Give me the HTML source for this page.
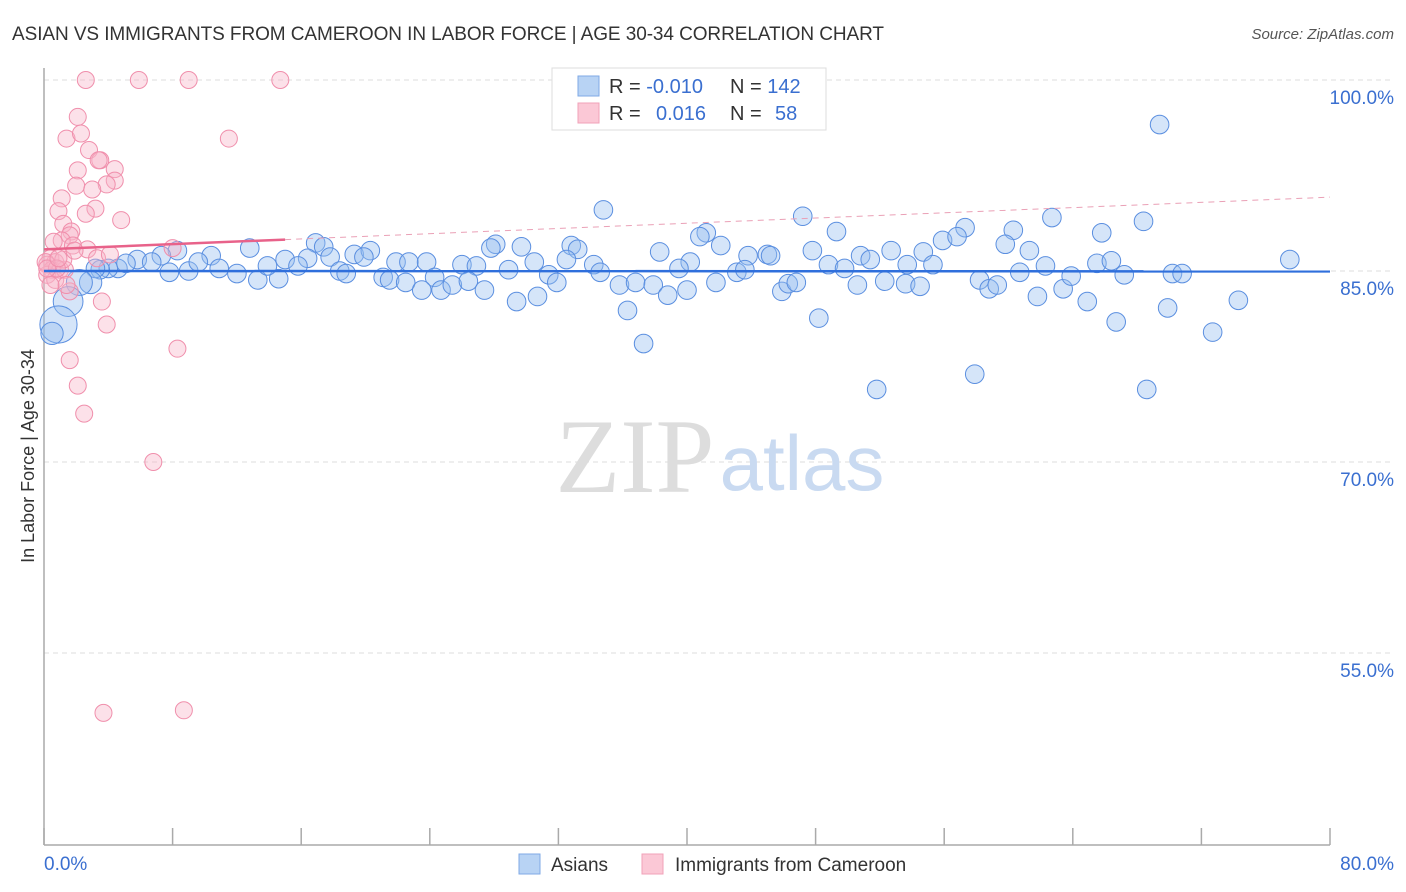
<!DOCTYPE html>
<html><head><meta charset="utf-8"><style>
body{margin:0;background:#fff;font-family:"Liberation Sans",sans-serif;}
svg{display:block}
</style></head><body>
<svg width="1406" height="892" xmlns="http://www.w3.org/2000/svg">
<text x="12" y="40" font-size="19" fill="#333" textLength="872">ASIAN VS IMMIGRANTS FROM CAMEROON IN LABOR FORCE | AGE 30-34 CORRELATION CHART</text>
<text x="1394" y="39" font-size="15" fill="#555" font-style="italic" text-anchor="end">Source: ZipAtlas.com</text>
<g id="grid"></g>
<g>
<text x="635" y="492" font-size="106" fill="#ddd" font-family="Liberation Serif,serif" text-anchor="middle">ZIP</text>
<text x="802" y="490" font-size="78" fill="#c9daf1" text-anchor="middle">atlas</text>
</g>
<line x1="44" y1="68" x2="44" y2="845" stroke="#aaa" stroke-width="1.5"/>
<line x1="44" y1="845" x2="1330" y2="845" stroke="#aaa" stroke-width="1.5"/>
<g id="xticks"></g>
<g id="pts"></g>
<g id="trend"></g>
<text x="0" y="0" font-size="18" fill="#333" text-anchor="middle" transform="translate(34,456) rotate(-90)">In Labor Force | Age 30-34</text>
<text x="44" y="870" font-size="19" fill="#3a6fd0">0.0%</text>
<text x="1394" y="870" font-size="19" fill="#3a6fd0" text-anchor="end">80.0%</text>
<g>
<rect x="552" y="68" width="274" height="62" fill="#fff" stroke="#ddd"/>
<rect x="578" y="76" width="21" height="20" fill="#b8d3f4" stroke="#7fa9e6"/>
<rect x="578" y="103" width="21" height="20" fill="#fbc8d6" stroke="#f0a2b8"/>
<text x="609" y="93" font-size="20" fill="#333">R = <tspan fill="#3a6fd0">-0.010</tspan></text>
<text x="730" y="93" font-size="20" fill="#333">N = <tspan fill="#3a6fd0">142</tspan></text>
<text x="609" y="120" font-size="20" fill="#333">R = <tspan fill="#3a6fd0" x="656">0.016</tspan></text>
<text x="730" y="120" font-size="20" fill="#333">N = <tspan fill="#3a6fd0" x="775">58</tspan></text>
</g>
<g>
<rect x="519" y="854" width="21" height="20" fill="#b8d3f4" stroke="#7fa9e6"/>
<text x="551" y="871" font-size="19" fill="#333">Asians</text>
<rect x="642" y="854" width="21" height="20" fill="#fbc8d6" stroke="#f0a2b8"/>
<text x="675" y="871" font-size="19" fill="#333">Immigrants from Cameroon</text>
</g>
</svg>
<script>
const yTicks=[100,85,70,55];
const yTickLabels=["100.0%","85.0%","70.0%","55.0%"];
const xTicks=[0,8,16,24,32,40,48,56,64,72,80];
const blueX=[69.4,34.8,47.2,62.7,68.4,57.3,65.8,49.3,41.2,60.3,40.8,16.9,17.4,28.1,12.8,27.8,29.7,32.8,33.2,38.3,42.1,47.8,55.9,56.8,59.8,61.3,52.7,54.7,8.3,10.4,7.3,5.8,6.7,19.3,20.3,17.8,19.9,16.4,15.0,15.8,21.9,22.7,23.8,26.0,26.9,30.5,32.5,34.2,43.8,45.0,45.2,50.8,51.4,48.8,49.8,53.7,55.3,62.3,65.5,66.4,77.5,70.2,70.8,40.2,39.5,43.1,43.6,34.6,31.4,28.9,24.3,21.1,21.5,22.5,23.5,24.7,25.4,26.4,27.4,29.4,30.7,31.9,35.8,36.8,37.9,38.8,40.0,41.8,45.9,46.3,46.8,52.3,50.6,53.6,54.5,58.2,58.8,59.3,60.7,61.8,63.4,63.9,64.9,67.2,66.7,69.9,72.7,74.3,36.3,37.3,48.2,51.8,57.9,68.6,18.4,18.8,13.3,14.6,12.0,10.9,9.0,7.8,4.6,4.0,3.5,3.2,5.1,2.9,2.2,1.5,0.9,0.5,9.6,13.9];
const blueY=[96.5,89.8,89.3,89.2,88.9,88.4,88.0,88.1,88.0,88.2,87.7,87.2,86.9,87.1,86.8,86.8,86.9,87.0,86.7,86.5,87.0,86.6,87.4,87.7,87.1,86.6,86.6,86.5,86.6,86.2,86.2,85.9,85.7,86.3,86.6,86.1,86.1,86.0,85.9,85.4,85.7,85.7,85.7,85.5,85.4,85.7,85.9,85.5,86.2,86.3,86.2,86.2,85.9,85.5,85.2,85.5,85.5,85.4,85.6,85.8,85.9,84.8,84.8,85.7,85.2,84.9,85.1,84.9,84.7,85.1,84.5,84.5,84.3,84.1,83.5,83.5,83.9,84.2,83.5,82.6,83.0,84.1,83.9,84.1,83.9,83.1,83.5,84.1,83.4,84.0,84.1,84.2,83.9,84.0,83.8,84.3,83.6,83.9,84.9,83.0,83.6,84.6,82.6,84.7,81.0,82.1,80.2,82.7,81.9,79.3,81.3,75.7,76.9,75.7,85.0,84.8,84.3,84.4,84.8,85.2,85.0,84.9,85.2,85.2,85.1,85.2,85.6,84.1,84.1,82.6,80.8,80.1,85.7,85.4];
const blueSize=Array(127).fill(1).concat([1.2,1.4,1.6,2.0,1.2,1,1]);
const pinkX=[2.6,5.9,9.0,14.7,2.1,11.5,1.4,2.3,2.8,3.5,3.4,4.4,2.1,4.4,3.9,2.0,3.0,1.1,3.2,0.9,2.6,4.8,1.2,1.7,1.6,1.1,1.8,0.6,2.7,3.3,8.0,0.4,0.7,0.2,0.5,1.0,0.2,0.7,1.3,1.6,3.6,3.9,1.6,2.1,2.5,8.3,6.8,3.7,8.7,4.1,1.2,0.1,0.8,1.4,0.2,0.4,0.9,1.9];
const pinkY=[100,100,100,100,97.1,95.4,95.4,95.8,94.5,93.7,93.7,93.0,92.9,92.1,91.8,91.7,91.4,90.7,89.9,89.7,89.5,89.0,88.7,88.1,87.8,87.4,87.0,87.3,86.7,86.0,86.8,86.0,85.7,85.5,85.1,85.1,84.7,84.3,85.1,83.4,82.6,80.8,78.0,76.0,73.8,78.9,70.0,50.3,50.5,86.3,85.9,85.7,85.2,83.9,85.2,83.9,86.0,86.6];
const blueTrend=[85.0,84.97];
const pinkTrend=[86.7,90.8];
const pinkSolidEnd=15;

const NS="http://www.w3.org/2000/svg";
const X=v=>44+v*(1286/80);
const Y=v=>80+(100-v)*(191/15);
function mk(tag,attrs,parent){const e=document.createElementNS(NS,tag);for(const k in attrs)e.setAttribute(k,attrs[k]);parent.appendChild(e);return e;}
const grid=document.getElementById('grid');
yTicks.forEach((t,i)=>{
  const l=mk('line',{x1:44,x2:1394,y1:Y(t),y2:Y(t),stroke:'#ddd','stroke-dasharray':'5,4'},grid);
  
  
  const tx=mk('text',{x:1394,y:Y(t)+24,'font-size':19,fill:'#3a6fd0','text-anchor':'end'},grid);
  tx.textContent=yTickLabels[i];
  
  
});
const xt=document.getElementById('xticks');
xTicks.forEach(t=>{
  const l=mk('line',{x1:X(t),x2:X(t),y1:828,y2:845,stroke:'#aaa','stroke-width':1.5},xt);
  
  
});
const pts=document.getElementById('pts');
blueX.forEach((v,i)=>{
  const c=mk('circle',{cx:X(v),cy:Y(blueY[i]),r:9.3*(blueSize[i]||1),fill:'rgba(150,190,240,0.4)',stroke:'#5b8fe0','stroke-width':1},pts);
  
  
});
pinkX.forEach((v,i)=>{
  const c=mk('circle',{cx:X(v),cy:Y(pinkY[i]),r:8.5,fill:'rgba(248,180,200,0.4)',stroke:'#f08fac','stroke-width':1},pts);
  
  
});
const tr=document.getElementById('trend');
const bl=mk('line',{x1:X(0),y1:Y(blueTrend[0]),x2:X(80),y2:Y(blueTrend[1]),stroke:'#2f6fdc','stroke-width':2.5},tr);


const pAt=x=>pinkTrend[0]+(pinkTrend[1]-pinkTrend[0])*x/80;
const pd=mk('line',{x1:X(pinkSolidEnd),y1:Y(pAt(pinkSolidEnd)),x2:X(80),y2:Y(pinkTrend[1]),stroke:'#eaa0b6','stroke-width':1,'stroke-dasharray':'6,5'},tr);


const ps=mk('line',{x1:X(0),y1:Y(pinkTrend[0]),x2:X(pinkSolidEnd),y2:Y(pAt(pinkSolidEnd)),stroke:'#e8628a','stroke-width':2.5},tr);


</script>
</body></html>
